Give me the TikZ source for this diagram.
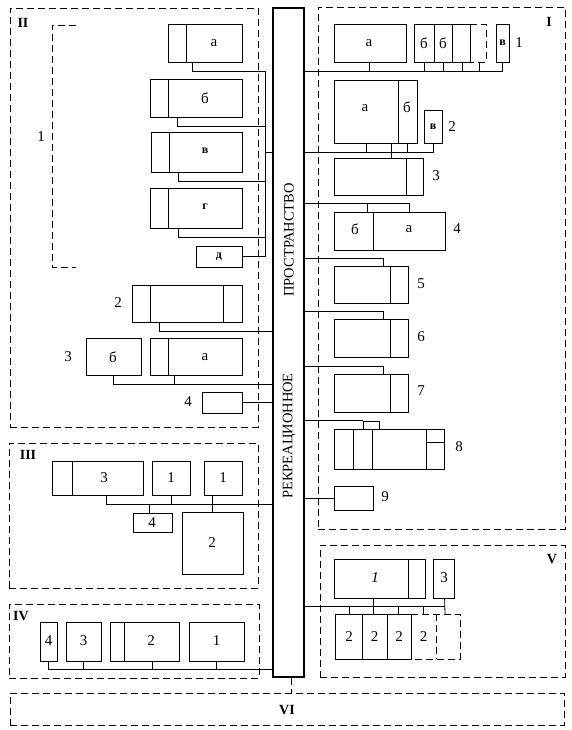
\documentclass[tikz,border=0pt]{standalone}
\usepackage{fontspec}
\setmainfont{Liberation Serif}
\usetikzlibrary{fit,calc}
\begin{document}
\begin{tikzpicture}[x=1pt,y=-1pt,line width=0.8pt,
  box/.style={draw,inner sep=0pt,line width=0.8pt},
  dsh/.style={draw,dash pattern=on 7pt off 4pt,line width=0.8pt},
  region/.style={draw,dash pattern=on 7pt off 4pt,inner sep=0pt,line width=0.8pt},
  lbl/.style={font=\fontsize{15}{15}\selectfont,inner sep=0pt},
  rom/.style={font=\fontsize{14}{14}\selectfont\bfseries,inner sep=0pt},
  sml/.style={font=\fontsize{12}{12}\selectfont\bfseries,inner sep=0pt},
  spinetxt/.style={rotate=90,font=\fontsize{14.5}{14.5}\selectfont,inner sep=0pt}]
\useasboundingbox (0,0) rectangle (571,730);
% regions
\node[region,fit={(10,8)(258,427)}] (rII) {};
\node[region,fit={(318,7)(565,529)}] (rI) {};
\node[region,fit={(9,443)(258,588)}] (rIII) {};
\node[region,fit={(9,604)(259,678)}] (rIV) {};
\node[region,fit={(320,545)(565,677)}] (rV) {};
\node[region,fit={(10,693)(564,725)}] (rVI) {};
\node[rom] (tII) at (23,23) {II};
\node[rom] (tI) at (549,22) {I};
\node[rom] (tIII) at (28,455) {III};
\node[rom] (tIV) at (21,616) {IV};
\node[rom] (tV) at (552,559) {V};
\node[rom] (tVI) at (287,710) {VI};
% spine
\node[draw,inner sep=0pt,line width=1.1pt,fit={(273,8)(304,677)}] (sp) {};
\node[spinetxt] (sp1) at (289,240) {ПРОСТРАНСТВО};
\node[spinetxt] (sp2) at (289,436) {РЕКРЕАЦИОННОЕ};
\draw[dsh] ($(sp.south)+(3,0)$) -- ($(sp.south)+(3,16)$);
% ---------- region II ----------
\draw[dsh] (76,25) -- (52,25) -- (52,267) -- (76,267);
\node[lbl] (tII1) at (41,137) {1};
\node[box,fit={(168,24)(242,62)}] (IIa) {};
\draw (186,24) -- (186,62);
\node[lbl] at (214,43) {а};
\node[box,fit={(150,79)(242,117)}] (IIb) {};
\draw (168,79) -- (168,117);
\node[lbl] at (205,98) {б};
\node[box,fit={(151,132)(242,172)}] (IIv) {};
\draw (169,132) -- (169,172);
\node[sml] at (205,151) {в};
\node[box,fit={(150,188)(242,228)}] (IIg) {};
\draw (168,188) -- (168,228);
\node[sml] at (205,207) {г};
\node[box,fit={(196,246)(242,267)}] (IId) {};
\node[sml] at (219,257) {д};
\draw ($(IIa.south west)+(25,0)$) |- (265,71) |- (IId.east);
\draw ($(IIb.south west)+(28,0)$) |- (265,126);
\draw ($(IIv.south west)+(28,0)$) |- (265,181);
\draw ($(IIg.south west)+(29,0)$) |- (265,237);
\draw (265,152) -- (sp.west |- 0,152);
\node[box,fit={(132,285)(242,322)}] (II2) {};
\draw (150,285) -- (150,322) (223,285) -- (223,322);
\node[lbl] at (118,303) {2};
\draw ($(II2.south west)+(28,0)$) |- (sp.west |- 0,331);
\node[box,fit={(86,338)(141,375)}] (II3b) {};
\node[lbl] at (113,357) {б};
\node[box,fit={(150,338)(242,375)}] (II3a) {};
\draw (168,338) -- (168,375);
\node[lbl] at (205,357) {а};
\node[lbl] at (68,357) {3};
\draw ($(II3b.south west)+(28,0)$) |- (sp.west |- 0,384);
\draw ($(II3a.south west)+(25,0)$) -- ($(II3a.south west)+(25,9)$);
\node[box,fit={(202,392)(242,413)}] (II4) {};
\node[lbl] at (188,402) {4};
\draw (II4.east) -- (II4.east -| sp.west);
% ---------- region I ----------
\node[box,fit={(334,24)(406,62)}] (I1a) {};
\node[lbl] at (369,43) {а};
\node[box,fit={(414,24)(470,62)}] (I1b) {};
\draw (434,24) -- (434,62) (452,24) -- (452,62);
\draw[dsh] (470,24) -- (486,24) -- (486,62) -- (470,62);
\node[lbl] at (424,43) {б};
\node[lbl] at (443,43) {б};
\node[box,fit={(496,24)(509,62)}] (I1v) {};
\node[sml] at (502.5,43) {в};
\node[lbl] at (519,43) {1};
\draw (sp.east |- 0,71) -| (I1v.south);
\draw ($(I1a.south west)+(36,0)$) -- ($(I1a.south west)+(36,9)$);
\draw (424,62) -- (424,71) (443,62) -- (443,71) (462,62) -- (462,71) (479,62) -- (479,71);
\node[box,fit={(334,80)(417,143)}] (I2) {};
\draw (398,80) -- (398,143);
\node[lbl] at (365,108) {а};
\node[lbl] at (407,107) {б};
\node[box,fit={(424,110)(442,143)}] (I2v) {};
\node[sml] at (433,127) {в};
\node[lbl] at (452,127) {2};
\draw (sp.east |- 0,152) -| (I2v.south);
\draw (366,143) -- (366,152) (407,143) -- (407,152);
\node[box,fit={(334,158)(423,195)}] (I3) {};
\draw (406,158) -- (406,195);
\node[lbl] at (436,176) {3};
\draw ($(I2.south west)+(58,0)$) -- ($(I3.north west)+(58,0)$);
\node[box,fit={(334,212)(445,250)}] (I4) {};
\draw (373,212) -- (373,250);
\node[lbl] at (355,229) {б};
\node[lbl] at (409,229) {а};
\node[lbl] at (457,229) {4};
\draw (sp.east |- 0,203) -| ($(I4.north west)+(76,0)$);
\draw ($(I4.north west)+(34,0)$) -- ($(I4.north west)+(34,-9)$);
\node[box,fit={(334,266)(408,303)}] (I5) {};
\draw (390,266) -- (390,303);
\node[lbl] at (421,284) {5};
\draw (sp.east |- 0,258) -| ($(I5.north west)+(50,0)$);
\node[box,fit={(334,319)(408,357)}] (I6) {};
\draw (390,319) -- (390,357);
\node[lbl] at (421,337) {6};
\draw (sp.east |- 0,311) -| ($(I6.north west)+(50,0)$);
\node[box,fit={(334,374)(408,412)}] (I7) {};
\draw (390,374) -- (390,412);
\node[lbl] at (421,391) {7};
\draw (sp.east |- 0,366) -| ($(I7.north west)+(50,0)$);
\node[box,fit={(334,429)(444,469)}] (I8) {};
\draw (353,429) -- (353,469) (372,429) -- (372,469) (426,429) -- (426,469) (426,442) -- (444,442);
\node[box,fit={(363,421)(379,429)}] (I8t) {};
\draw (sp.east |- I8t.north) -- (I8t.north west);
\node[lbl] at (459,447) {8};
\node[box,fit={(334,486)(373,510)}] (I9) {};
\node[lbl] at (385,497) {9};
\draw (I9.west) -- (I9.west -| sp.east);
% ---------- region III ----------
\node[box,fit={(52,461)(143,495)}] (III3) {};
\draw (72,461) -- (72,495);
\node[lbl] at (104,478) {3};
\node[box,fit={(152,461)(190,495)}] (III1a) {};
\node[lbl] at (171,478) {1};
\node[box,fit={(204,461)(242,495)}] (III1b) {};
\node[lbl] at (223,478) {1};
\node[box,fit={(133,513)(172,532)}] (III4) {};
\node[lbl] at (152,523) {4};
\node[box,fit={(182,512)(243,574)}] (III2) {};
\node[lbl] at (212,543) {2};
\draw ($(III3.south west)+(55,0)$) |- (sp.west |- 0,504);
\draw (III1a.south) -- ($(III1a.south)+(0,9)$);
\draw ($(III1b.south west)+(9,0)$) -- ($(III2.north west)+(31,0)$);
\draw ($(III4.north west)+(17,0)$) -- ($(III4.north west)+(17,-9)$);
% ---------- region IV ----------
\node[box,fit={(40,622)(57,661)}] (IV4) {};
\node[lbl] at (48.5,641) {4};
\node[box,fit={(66,622)(101,661)}] (IV3) {};
\node[lbl] at (83.5,641) {3};
\node[box,fit={(110,622)(179,661)}] (IV2) {};
\draw (124,622) -- (124,661);
\node[lbl] at (151,641) {2};
\node[box,fit={(189,622)(244,661)}] (IV1) {};
\node[lbl] at (216.5,641) {1};
\draw (IV4.south) |- (sp.west |- 0,669);
\draw (IV3.south) -- ($(IV3.south)+(0,8)$);
\draw ($(IV2.south west)+(43,0)$) -- ($(IV2.south west)+(43,8)$);
\draw (IV1.south) -- ($(IV1.south)+(0,8)$);
% ---------- region V ----------
\node[box,fit={(334,559)(425,598)}] (V1) {};
\draw (408,559) -- (408,598);
\node[lbl,font=\fontsize{15}{15}\selectfont\itshape] at (375,578) {1};
\node[box,fit={(433,559)(454,598)}] (V3) {};
\node[lbl] at (444,578) {3};
\node[box,fit={(335,614)(411,659)}] (V2) {};
\draw (362,614) -- (362,659) (387,614) -- (387,659);
\draw[dsh] (411,614) -- (460,614) -- (460,659) -- (411,659);
\draw[dsh] (436,614) -- (436,659);
\node[lbl] at (349,637) {2};
\node[lbl] at (374.5,637) {2};
\node[lbl] at (399,637) {2};
\node[lbl] at (423.5,637) {2};
\draw (sp.east |- 0,606) -- (445,606);
\draw ($(V1.south west)+(40,0)$) -- ($(V2.north west)+(39,0)$);
\draw ($(V3.south west)+(12,0)$) -- (445,614);
\draw (349,606) -- (349,614) (398,606) -- (398,614) (423,606) -- (423,614);
\end{tikzpicture}
\end{document}
